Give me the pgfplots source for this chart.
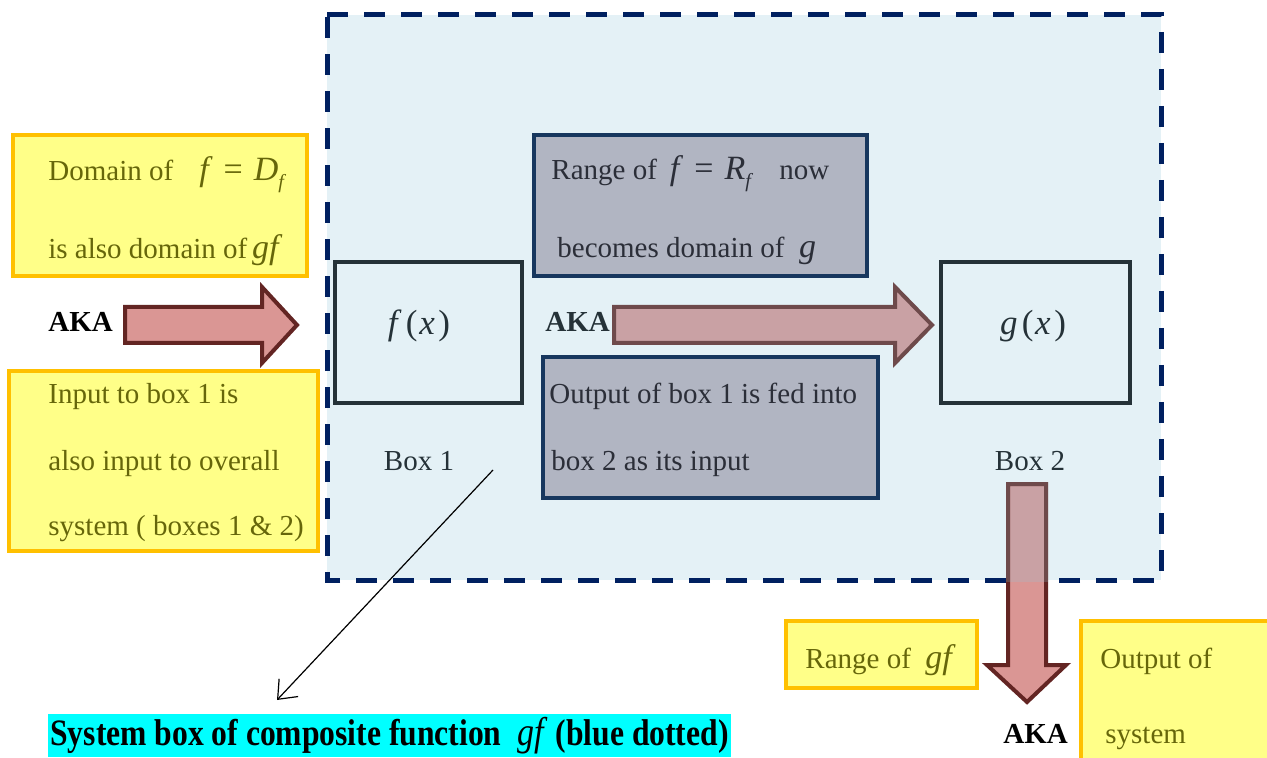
\documentclass[border=0pt]{standalone}
\usepackage{pgfplots}
\pgfplotsset{compat=1.18}
\usepackage{fontspec}
\setmainfont{Liberation Serif}
\usetikzlibrary{arrows.meta}
\definecolor{bgblue}{HTML}{E4F1F6}
\definecolor{navy}{HTML}{002060}
\definecolor{yfill}{HTML}{FFFF88}
\definecolor{yborder}{HTML}{FFC000}
\definecolor{olive}{HTML}{66660A}
\definecolor{gfill}{HTML}{B1B5C2}
\definecolor{gborder}{HTML}{17375E}
\definecolor{dslate}{HTML}{253238}
\definecolor{gtext}{HTML}{2B2E38}
\definecolor{afill}{HTML}{DA9694}
\definecolor{aborder}{HTML}{632523}
\definecolor{a2fill}{HTML}{C9A1A4}
\definecolor{a2border}{HTML}{6E4A4B}
\definecolor{capcyan}{HTML}{00FFFF}
\newcommand{\fs}{\fontsize{14.5}{17}\selectfont}
\newcommand{\mi}[1]{{\fontsize{17}{17}\selectfont\textit{#1}}}
\newcommand{\sub}[1]{\raisebox{-0.55ex}{\fontsize{10}{10}\selectfont\textit{#1}}}
\newcommand{\eq}{\hspace{0.38em}{\fontsize{17}{17}\selectfont=}\hspace{0.38em}}
\begin{document}
\begin{tikzpicture}
\begin{axis}[x=0.5pt,y=0.5pt,xmin=0,xmax=1267,ymin=0,ymax=758,y dir=reverse,
  axis lines=none,scale only axis,clip=true]
% full frame (invisible) to fix the picture size
\addplot[draw=none] coordinates {(0,0) (1267,0) (1267,758) (0,758)} -- cycle;
% system box
\addplot[fill=bgblue,draw=navy,line width=2.5pt,dash pattern=on 10.5pt off 8pt] coordinates {(327,15) (1161,15) (1161,580) (327,580)} -- cycle;
% yellow boxes
\addplot[fill=yfill,draw=yborder,line width=2pt] coordinates {(13,135) (307,135) (307,276) (13,276)} -- cycle;
\addplot[fill=yfill,draw=yborder,line width=2pt] coordinates {(9,371) (318,371) (318,551) (9,551)} -- cycle;
\addplot[fill=yfill,draw=yborder,line width=2pt] coordinates {(786,621) (977,621) (977,688) (786,688)} -- cycle;
\addplot[fill=yfill,draw=none] coordinates {(1081,621) (1267,621) (1267,758) (1081,758)} -- cycle;
\addplot[draw=yborder,line width=2pt] coordinates {(1081,758) (1081,621) (1267,621)};
% function boxes
\addplot[draw=dslate,line width=2pt] coordinates {(335,262) (522,262) (522,403) (335,403)} -- cycle;
\addplot[draw=dslate,line width=2pt] coordinates {(941,262) (1130,262) (1130,403) (941,403)} -- cycle;
% grey boxes
\addplot[fill=gfill,draw=gborder,line width=2pt] coordinates {(534,135) (867,135) (867,276) (534,276)} -- cycle;
\addplot[fill=gfill,draw=gborder,line width=2pt] coordinates {(543,357) (878,357) (878,498) (543,498)} -- cycle;
% arrow 1
\addplot[fill=afill,draw=aborder,line width=2pt,line join=miter] coordinates {(125,307) (262,307) (262,287) (297,325) (262,363) (262,343) (125,343)} -- cycle;
% arrow 2
\addplot[fill=a2fill,draw=a2border,line width=2pt,line join=miter] coordinates {(614,307) (895,307) (895,287) (932,325) (895,363) (895,343) (614,343)} -- cycle;
% down arrow
\addplot[fill=afill,draw=none] coordinates {(1008,484) (1046,484) (1046,665) (1066,665) (1027,702) (987,665) (1008,665)} -- cycle;
\addplot[fill=a2fill,draw=none] coordinates {(1008,484) (1046,484) (1046,582) (1008,582)} -- cycle;
\addplot[draw=aborder,line width=2pt,line join=miter] coordinates {(1008,484) (1046,484) (1046,665) (1066,665) (1027,702) (987,665) (1008,665)} -- cycle;
\addplot[draw=a2border,line width=2pt,line join=miter] coordinates {(1008,582) (1008,484) (1046,484) (1046,582)};
% thin arrow
\addplot[black,line width=0.6pt,-{Straight Barb[length=8pt,width=13pt]}] coordinates {(493,470) (277,700)};
% caption background
\addplot[fill=capcyan,draw=none] coordinates {(48,714) (731,714) (731,757) (48,757)} -- cycle;
% texts
\node[anchor=base west,text=olive,font=\fs,inner sep=0pt] at (48,181) {Domain of\hspace{0.9em}\mi{f}\eq\mi{D}\sub{f}};
\node[anchor=base west,text=olive,font=\fs,inner sep=0pt] at (48,259) {is also domain of\,\mi{gf}};
\node[anchor=base west,text=olive,font=\fs,inner sep=0pt] at (48,404) {Input to box 1 is};
\node[anchor=base west,text=olive,font=\fs,inner sep=0pt] at (48,470) {also input to overall};
\node[anchor=base west,text=olive,font=\fs,inner sep=0pt] at (48,535) {system ( boxes 1 \& 2)};
\node[anchor=base west,text=black,font=\fs\bfseries,inner sep=0pt] at (48,332) {AKA};
\node[anchor=base,text=dslate,font=\fontsize{17.5}{18}\selectfont,inner sep=0pt] at (419,335) {\textit{f}\hspace{0.12em}(\hspace{0.05em}\textit{x}\hspace{0.1em})};
\node[anchor=base,text=dslate,font=\fontsize{17.5}{18}\selectfont,inner sep=0pt] at (1033,335) {\textit{g}\hspace{0.12em}(\hspace{0.05em}\textit{x}\hspace{0.1em})};
\node[anchor=base,text=dslate,font=\fs,inner sep=0pt] at (419,470) {Box 1};
\node[anchor=base,text=dslate,font=\fs,inner sep=0pt] at (1030,470) {Box 2};
\node[anchor=base west,text=gtext,font=\fs,inner sep=0pt] at (551,180) {Range of\hspace{0.45em}\mi{f}\eq\mi{R}\sub{f}\hspace{0.9em}now};
\node[anchor=base west,text=gtext,font=\fs,inner sep=0pt] at (557,258) {becomes domain of\hspace{0.5em}\mi{g}};
\node[anchor=base west,text=gtext,font=\fs,inner sep=0pt] at (549,404) {Output of box 1 is fed into};
\node[anchor=base west,text=gtext,font=\fs,inner sep=0pt] at (551,470) {box 2 as its input};
\node[anchor=base west,text=dslate,font=\fs\bfseries,inner sep=0pt] at (545,332) {AKA};
\node[anchor=base west,text=olive,font=\fs,inner sep=0pt] at (805,668) {Range of\hspace{0.5em}\mi{gf}};
\node[anchor=base west,text=olive,font=\fs,inner sep=0pt] at (1100,668) {Output of};
\node[anchor=base west,text=olive,font=\fs,inner sep=0pt] at (1105,743) {system};
\node[anchor=base west,text=black,font=\fs\bfseries,inner sep=0pt] at (1003,743) {AKA};
\node[anchor=base west,text=black,font=\fontsize{15.8}{18}\selectfont\bfseries,inner sep=0pt] at (50,745) {\scalebox{1}[1.18]{System box of composite function\hspace{0.5em}{\mdseries\mi{gf}} (blue dotted)}};
\end{axis}
\end{tikzpicture}
\end{document}
